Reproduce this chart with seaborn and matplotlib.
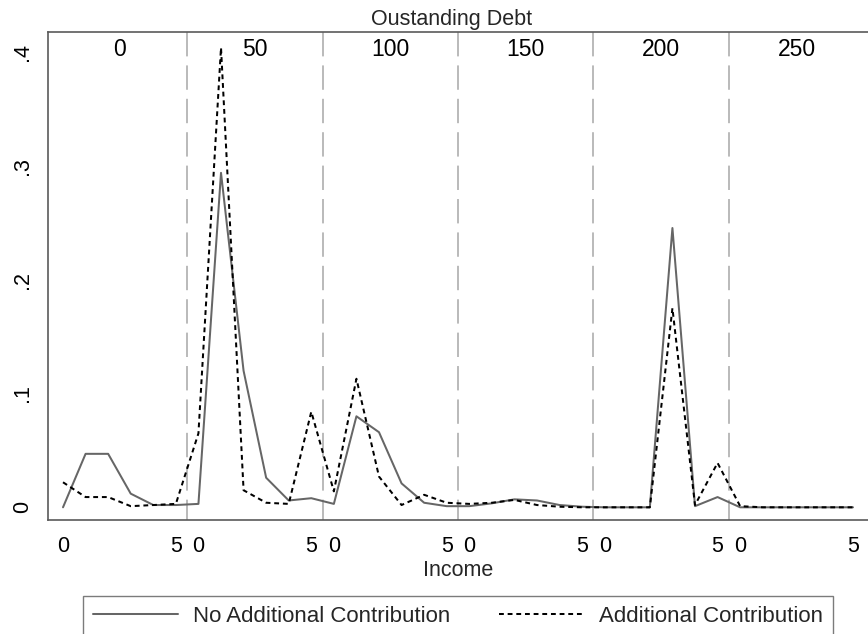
import numpy as np
import pandas as pd
import matplotlib
matplotlib.use("Agg")
import matplotlib.pyplot as plt
import matplotlib.transforms as mtransforms
import seaborn as sns

# Outstanding debt levels (one panel each) and income levels within a panel
debt_levels = [0, 50, 100, 150, 200, 250]
income_levels = [0, 1, 2, 3, 4, 5]

# Share of households, ordered debt panel by debt panel, income 0..5 within each
no_contribution = [
    0.000, 0.047, 0.047, 0.012, 0.002, 0.002,   # debt 0
    0.003, 0.294, 0.120, 0.026, 0.006, 0.008,   # debt 50
    0.003, 0.080, 0.066, 0.021, 0.004, 0.001,   # debt 100
    0.001, 0.0035, 0.007, 0.006, 0.002, 0.0005, # debt 150
    0.000, 0.000, 0.000, 0.2455, 0.001, 0.009,  # debt 200
    0.000, 0.000, 0.000, 0.000, 0.000, 0.000,   # debt 250
]
add_contribution = [
    0.022, 0.009, 0.009, 0.001, 0.002, 0.003,   # debt 0
    0.065, 0.404, 0.015, 0.004, 0.003, 0.084,   # debt 50
    0.014, 0.113, 0.027, 0.002, 0.011, 0.004,   # debt 100
    0.003, 0.004, 0.0065, 0.002, 0.0005, 0.000, # debt 150
    0.000, 0.000, 0.000, 0.175, 0.002, 0.039,   # debt 200
    0.001, 0.000, 0.000, 0.000, 0.000, 0.000,   # debt 250
]

series_names = ["No Additional Contribution", "Additional Contribution"]

n_inc = len(income_levels)
position = [p * n_inc + i for p in range(len(debt_levels)) for i in range(n_inc)]

df = pd.DataFrame({
    "position": position * 2,
    "share": no_contribution + add_contribution,
    "series": [series_names[0]] * len(position) + [series_names[1]] * len(position),
})

sns.set_theme(style="white")
plt.rcParams["font.family"] = ["Liberation Sans", "DejaVu Sans"]

W, H = 868, 634
fig = plt.figure(figsize=(W / 100, H / 100), dpi=100)
ax = fig.add_axes([48 / W, (H - 520) / H, 820 / W, 488 / H])

axis_gray = "#5a5a5a"

sns.lineplot(
    data=df, x="position", y="share", hue="series", style="series",
    palette={series_names[0]: "#666666", series_names[1]: "#000000"},
    dashes={series_names[0]: "", series_names[1]: (2.4, 1.9)},
    linewidth=1.45, ax=ax, legend=False, sort=False,
)

# panel separators between debt levels
for p in range(1, len(debt_levels)):
    ax.axvline(p * n_inc - 0.5, ymin=1, ymax=0, color="#b4b4b4", lw=1.3,
               dashes=(13.5, 5.0), zorder=0)

# debt level labels at the top of each panel
trans = mtransforms.blended_transform_factory(ax.transData, ax.transAxes)
for p, d in enumerate(debt_levels):
    ax.text(p * n_inc + (n_inc - 1) / 2, 0.965, str(d), transform=trans,
            ha="center", va="center", fontsize=16.5, color="black")

n_pos = len(position)
pad_x = 0.665
ax.set_xlim(-pad_x, n_pos - 1 + pad_x)
ax.set_ylim(-0.01116, 0.4178)

ax.set_xticks(position)
ax.set_xticklabels([
    str(income_levels[i % n_inc]) if i % n_inc in (0, n_inc - 1) else ""
    for i in range(n_pos)
])
ax.set_yticks([0, 0.1, 0.2, 0.3, 0.4])
ax.set_yticklabels(["0", ".1", ".2", ".3", ".4"], rotation=90, va="center")

ax.tick_params(axis="both", which="major", direction="out", length=6.5,
               width=1.0, color=axis_gray, labelsize=15.5, labelcolor="black")
ax.tick_params(axis="x", pad=5)
ax.tick_params(axis="y", pad=4)

for side in ["left", "top", "bottom"]:
    ax.spines[side].set_visible(True)
    ax.spines[side].set_color(axis_gray)
    ax.spines[side].set_linewidth(1.2)
ax.spines["right"].set_visible(False)

ax.set_xlabel("Income", fontsize=15.5, labelpad=2)
ax.set_ylabel("")

fig.text(452 / W, 1 - 20 / H, "Oustanding Debt", ha="center", va="center",
         fontsize=15.5)

handles = [
    plt.Line2D([], [], color="#666666", lw=1.45),
    plt.Line2D([], [], color="#000000", lw=1.45, dashes=(2.4, 1.9)),
]
leg = fig.legend(
    handles, series_names, loc="upper center",
    bbox_to_anchor=(458 / W, 1 - 596 / H), ncol=2, fontsize=16,
    frameon=True, fancybox=False, borderpad=0.45, handlelength=3.85,
    handletextpad=0.68, columnspacing=2.16, borderaxespad=0,
)
leg.get_frame().set_edgecolor(axis_gray)
leg.get_frame().set_linewidth(1.0)

fig.savefig("out.png", dpi=100)
